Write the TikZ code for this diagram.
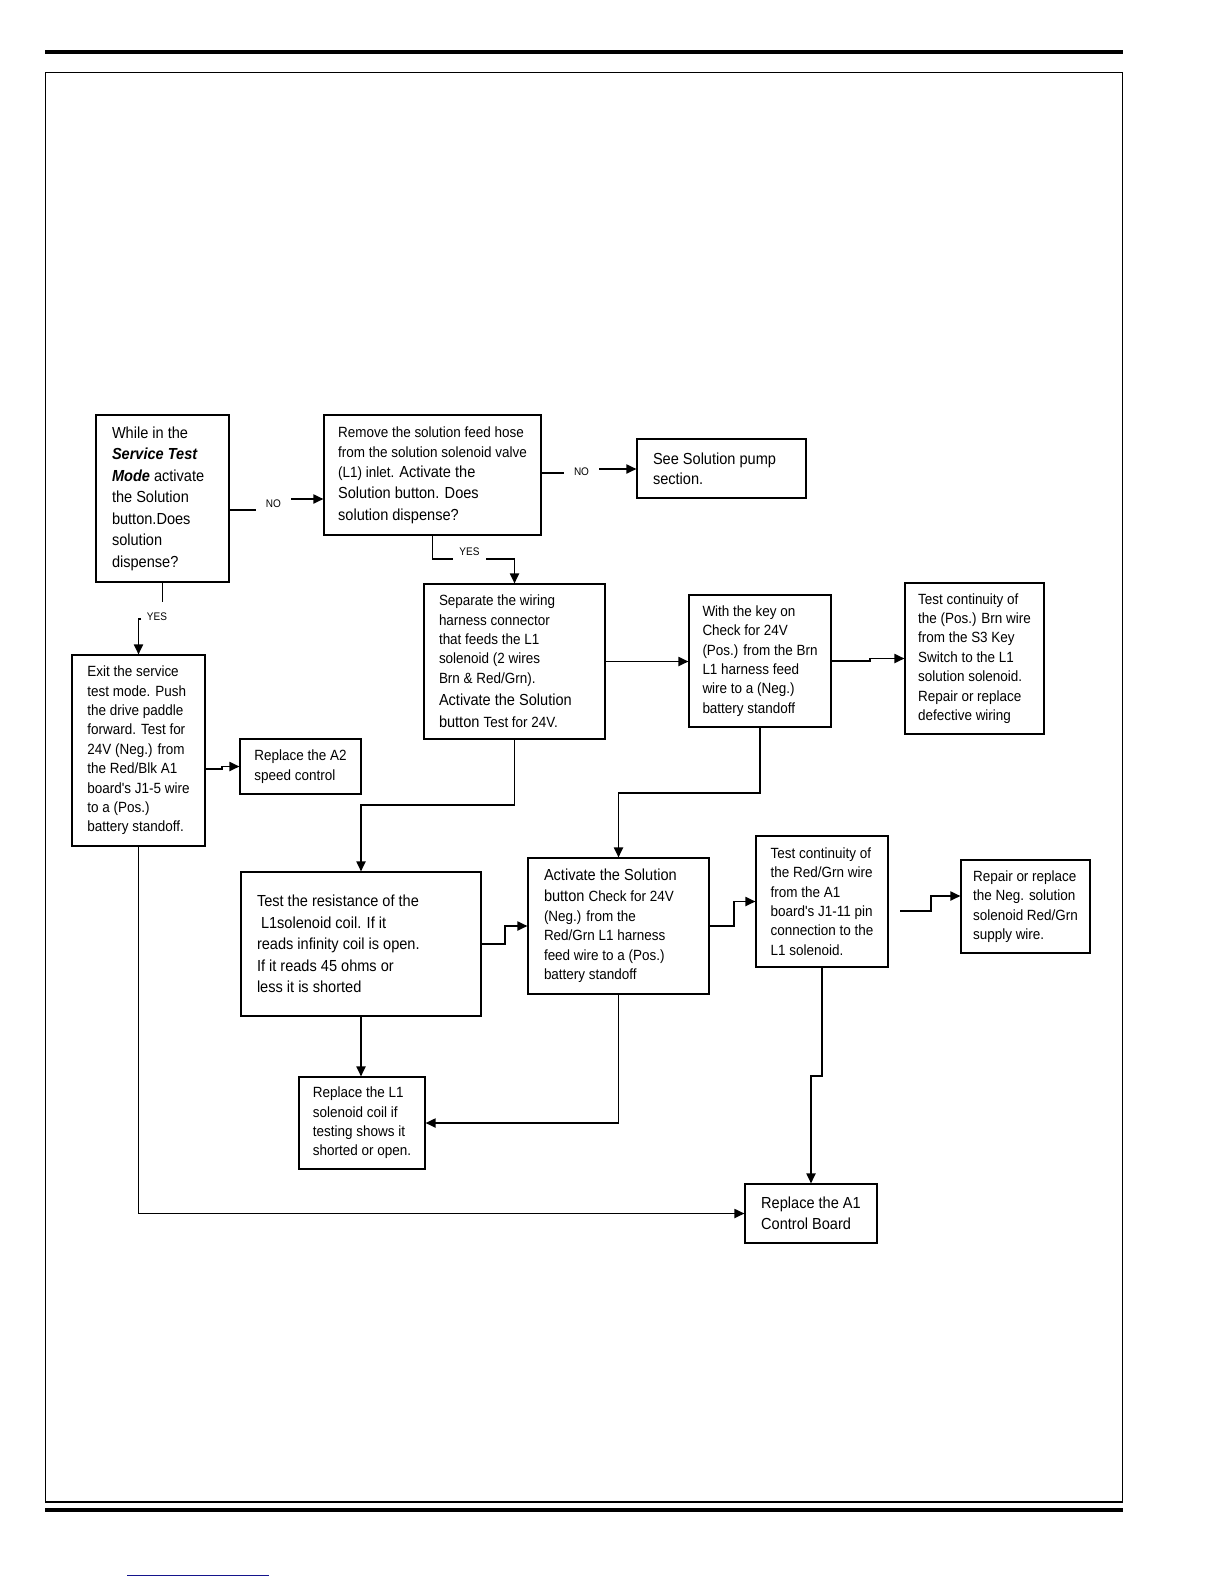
\documentclass[tikz,border=0pt]{standalone}
\usepackage{fontspec}
\usepackage{xcolor}
\usetikzlibrary{arrows.meta}

\newfontfamily\narrowsans[FakeStretch=0.91]{Liberation Sans}
\newcommand{\bigt}{\narrowsans\fontsize{16}{21.5}\selectfont}
\newcommand{\smt}{\narrowsans\fontsize{14.8}{19.4}\selectfont}
\newcommand{\labt}{\narrowsans\fontsize{11}{13}\selectfont}
\definecolor{linkblue}{RGB}{20,20,140}

\begin{document}
\begin{tikzpicture}[
        x=1pt, y=-1pt,
        box/.style={draw, line width=1.1pt, align=flush left, inner sep=0pt, node font=\smt},
        lab/.style={inner xsep=10pt, inner ysep=0pt, node font=\labt},
        conn/.style={line width=1.8pt},
        arr/.style={line width=1.8pt, -{Triangle[length=10pt,width=9pt]}}
    ]
        \useasboundingbox (0,0) rectangle (1224,1584);

        \fill (45,50) rectangle (1123,54);
        \draw[line width=1.3pt] (45.5,72.5) rectangle (1122.5,1502);
        \fill (45,1508) rectangle (1123,1512);
        \draw[linkblue, line width=1pt] (127,1575) -- (269,1575);

        \node[box, node font=\bigt, text width=101pt, minimum width=133pt, minimum height=167pt] (q1) at (162.5,498.5)
            {While in the\\ \textbf{\textit{Service Test}}\\ \textbf{\textit{Mode}} activate\\ the Solution\\ button.Does\\ solution\\ dispense?};
        \node[box, node font=\bigt, minimum width=217pt, minimum height=120pt] (q2) at (432.5,475)
            {\smt Remove the solution feed hose\\[-1.5pt] \smt from the solution solenoid valve\\[-1.5pt] \smt (L1) inlet. \bigt Activate the\\ Solution button. Does\\ solution dispense?};
        \node[box, node font=\bigt, text width=137pt, minimum width=169pt, minimum height=59pt] (pump) at (721.5,468.5)
            {See Solution pump\\[-1.5pt] section.};
        \node[box, minimum width=133pt, minimum height=191pt] (exit) at (138.5,750.5)
            {Exit the service\\ test mode. Push\\ the drive paddle\\ forward. Test for\\ 24V (Neg.) from\\ the Red/Blk A1\\ board's J1-5 wire\\ to a (Pos.)\\ battery standoff.};
        \node[box, minimum width=121pt, minimum height=55pt] (a2) at (300.5,766.5)
            {Replace the A2\\ speed control};
        \node[box, text width=151pt, minimum width=181pt, minimum height=155pt] (sep) at (514.5,661.5)
            {Separate the wiring\\ harness connector\\ that feeds the L1\\ solenoid (2 wires\\ Brn \& Red/Grn).\\[1pt] \bigt Activate the Solution\\[2.5pt] button \smt Test for 24V.};
        \node[box, minimum width=142pt, minimum height=132pt] (key) at (760,661)
            {With the key on\\ Check for 24V\\ (Pos.) from the Brn\\ L1 harness feed\\ wire to a (Neg.)\\ battery standoff};
        \node[box, minimum width=139pt, minimum height=151pt] (contpos) at (974.5,658.5)
            {Test continuity of\\ the (Pos.) Brn wire\\ from the S3 Key\\ Switch to the L1\\ solution solenoid.\\ Repair or replace\\ defective wiring};
        \node[box, node font=\bigt, text width=208pt, minimum width=240pt, minimum height=144pt] (res) at (361,944)
            {Test the resistance of the\\ \hspace*{4pt}L1solenoid coil. If it\\ reads infinity coil is open.\\ If it reads 45 ohms or\\ less it is shorted};
        \node[box, text width=149pt, minimum width=181pt, minimum height=136pt] (act) at (618.5,926)
            {\bigt Activate the Solution\\[1.5pt] button \smt Check for 24V\\[0.5pt] (Neg.) from the\\ Red/Grn L1 harness\\ feed wire to a (Pos.)\\ battery standoff};
        \node[box, minimum width=132pt, minimum height=131pt] (contneg) at (822,901.5)
            {Test continuity of\\ the Red/Grn wire\\ from the A1\\ board's J1-11 pin\\ connection to the\\ L1 solenoid.};
        \node[box, minimum width=129pt, minimum height=93pt] (repair) at (1025.5,906.5)
            {Repair or replace\\ the Neg. solution\\ solenoid Red/Grn\\ supply wire.};
        \node[box, minimum width=126pt, minimum height=92pt] (repl) at (362,1123)
            {Replace the L1\\ solenoid coil if\\ testing shows it\\ shorted or open.};
        \node[box, node font=\bigt, minimum width=132pt, minimum height=59pt] (a1) at (811,1213.5)
            {Replace the A1\\[-0.5pt] Control Board};

        \node[lab] (no1) at (273.5,504) {NO};
        \node[lab] (no2) at (581.5,472) {NO};
        \node[lab, inner xsep=6.5pt] (yes2) at (469.5,552) {YES};
        \node[lab] (yes1) at (157,617) {YES};
        \coordinate (y1a) at (162.5,602);
        \coordinate (y1b) at (141,619);
        \coordinate (cr) at (900,911);

        \draw[conn] (q1.east |- 0,510) -- (no1.west |- 0,510);
        \draw[arr] (no1.east |- 0,499) -- (q2.west |- 0,499);
        \draw[conn] (q2.east |- 0,473) -- (no2.west |- 0,473);
        \draw[arr] (no2.east |- 0,469) -- (pump.west |- 0,469);
        \draw[conn] (q2.south) |- (yes2.west |- 0,559);
        \draw[arr] (yes2.east |- 0,559) -| (sep.north);
        \draw[conn] (q1.south) -- (y1a);
        \draw[arr] (y1b) -| (exit.north);

        \draw[arr] (exit.east |- 0,769) -- (222,769) |- (a2.west);
        \draw[arr] (exit.south) |- (a1.west);
        \draw[arr] (sep.east) -- (sep.east -| key.west);
        \draw[arr] (key.east) -- (870,661) |- (contpos.west);
        \draw[arr] (key.south) -- (760,793) -| (act.north);
        \draw[arr] (sep.south) -- (514.5,805) -| (res.north);
        \draw[arr] (res.east) -- (505,944) |- (act.west);
        \draw[arr] (res.south) -- (res.south |- repl.north);
        \draw[arr] (act.south) |- (repl.east);
        \draw[arr] (act.east) -- (734,926) |- (contneg.west);
        \draw[arr] (cr) -- (931,911) |- (repair.west |- 0,896);
        \draw[arr] (contneg.south) -- (822,1076) -| (a1.north);
    \end{tikzpicture}
\end{document}
